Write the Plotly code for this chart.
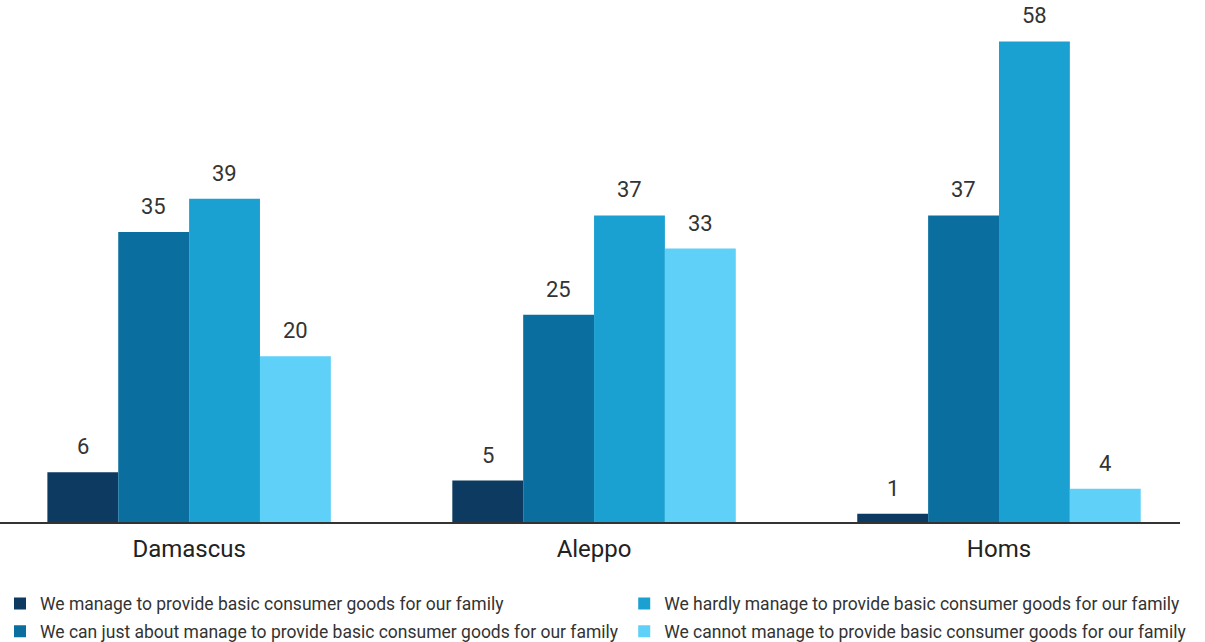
import plotly.graph_objects as go

cities = ["Damascus", "Aleppo", "Homs"]
series_names = [
    "We manage to provide basic consumer goods for our family",
    "We can just about manage to provide basic consumer goods for our family",
    "We hardly manage to provide basic consumer goods for our family",
    "We cannot manage to provide basic consumer goods for our family",
]
manage = [6, 5, 1]
just_about = [35, 25, 37]
hardly = [39, 37, 58]
cannot = [20, 33, 4]
values = [manage, just_about, hardly, cannot]
colors = ["#0c3a60", "#0a6f9f", "#1ba0d2", "#5fd0f7"]
legend_ids = ["legend", "legend", "legend2", "legend2"]

W, H = 1205, 642
margin = dict(l=0, r=25, t=0, b=120, autoexpand=False)
x_range = [-0.467, 2.447]
bargap = 0.30

fig = go.Figure()
for k, (name, vals, col, lg) in enumerate(zip(series_names, values, colors, legend_ids)):
    fig.add_trace(go.Bar(
        x=cities, y=vals, name=name, marker=dict(color=col, line=dict(width=0)),
        legend=lg, legendgroup=f"g{k}", hoverinfo="x+y+name",
    ))

# value labels above each bar, shifted horizontally to sit over its bar in the group
plot_w = W - margin["l"] - margin["r"]
px_per_cat = plot_w / (x_range[1] - x_range[0])
bar_px = px_per_cat * (1 - bargap) / len(values)
n = len(values)
for i, vals in enumerate(values):
    dx = (i - (n - 1) / 2) * bar_px
    for city, v in zip(cities, vals):
        fig.add_annotation(
            x=city, y=v, xref="x", yref="y", text=str(v), showarrow=False,
            xanchor="center", yanchor="bottom", xshift=dx, yshift=11,
            font=dict(size=22, color="#333333"),
        )

legend_style = dict(yanchor="top", xanchor="left", orientation="v",
                    font=dict(size=17.5, color="#333333"), itemwidth=30,
                    bgcolor="rgba(0,0,0,0)", tracegroupgap=2)

fig.update_layout(
    width=W, height=H,
    margin=margin,
    paper_bgcolor="white", plot_bgcolor="white",
    font=dict(family="Roboto, sans-serif", color="#333333"),
    barmode="group", bargap=bargap, bargroupgap=0,
    xaxis=dict(range=x_range, showline=True, linecolor="#333333", linewidth=2,
               ticks="", tickfont=dict(size=24, color="#222222"), showgrid=False,
               ticklabelstandoff=4),
    yaxis=dict(range=[0, 63], visible=False, showgrid=False, zeroline=False),
    legend=dict(x=0.0, y=-0.122, **legend_style),
    legend2=dict(x=0.529, y=-0.122, **legend_style),
    showlegend=True,
)

fig.write_html("out.html")
